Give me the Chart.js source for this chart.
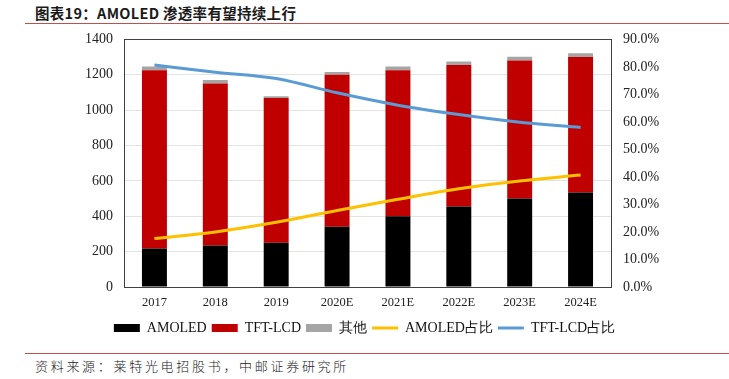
<!DOCTYPE html>
<html>
<head>
<meta charset="utf-8">
<script src="https://cdn.jsdelivr.net/npm/chart.js@4.4.1/dist/chart.umd.min.js"></script>
<style>
  html, body { margin: 0; padding: 0; background: #fff; }
  body { width: 729px; height: 379px; position: relative; overflow: hidden; }
  #title { position: absolute; left: 35px; top: 2px; font-family: "Noto Sans CJK SC", sans-serif; font-weight: bold; font-size: 14.5px; color: #1a1a1a; letter-spacing: 0.3px; }
  #topline { position: absolute; left: 25px; right: 0; top: 23px; height: 1px; background: #c0504d; }
  #botline { position: absolute; left: 25px; right: 0; top: 353px; height: 1px; background: #c0504d; }
  #source { position: absolute; left: 35px; top: 356px; font-family: "Noto Sans CJK SC", sans-serif; font-weight: 300; font-size: 13px; color: #222; letter-spacing: 2.7px; }
  #wrap { position: absolute; left: 0; top: 19px; width: 729px; height: 326px; }
</style>
</head>
<body>
<div id="title">图表19：AMOLED 渗透率有望持续上行</div>
<div id="topline"></div>
<div id="wrap"><canvas id="c"></canvas></div>
<div id="botline"></div>
<div id="source">资料来源：莱特光电招股书，中邮证券研究所</div>
<script>
const categories = ['2017', '2018', '2019', '2020E', '2021E', '2022E', '2023E', '2024E'];
const amoled = [218, 235, 250, 341, 400, 455, 500, 535];
const tftlcd = [1008, 915, 818, 859, 826, 800, 780, 765];
const others = [21, 21, 10, 16, 21, 20, 22, 21];
const amoledShare = [17.6, 20.0, 23.5, 27.8, 31.9, 35.7, 38.5, 40.7];
const tftShare = [80.7, 78.1, 75.8, 70.6, 66.1, 62.7, 59.9, 58.0];
const leftTicks = [0, 200, 400, 600, 800, 1000, 1200, 1400];
const rightTicks = [0, 10, 20, 30, 40, 50, 60, 70, 80, 90];

const serif = '"Liberation Serif", "Times New Roman", serif';

const boxPlugin = {
  id: 'plotBox',
  afterDraw(chart) {
    const a = chart.chartArea, ctx = chart.ctx;
    ctx.save();
    ctx.strokeStyle = '#404040';
    ctx.lineWidth = 1;
    ctx.strokeRect(Math.round(a.left) + 0.5, Math.round(a.top) + 0.5, Math.round(a.right - a.left), Math.round(a.bottom - a.top));
    ctx.restore();
  }
};

new Chart(document.getElementById('c'), {
  data: {
    labels: categories,
    datasets: [
      { type: 'line', label: 'AMOLED占比', data: amoledShare, yAxisID: 'y1', borderColor: '#FFC000', backgroundColor: '#FFC000', borderWidth: 3, pointRadius: 0, tension: 0.4, cubicInterpolationMode: 'monotone', pointStyle: 'line', order: 0 },
      { type: 'line', label: 'TFT-LCD占比', data: tftShare, yAxisID: 'y1', borderColor: '#5B9BD5', backgroundColor: '#5B9BD5', borderWidth: 3, pointRadius: 0, tension: 0.4, cubicInterpolationMode: 'monotone', pointStyle: 'line', order: 0 },
      { type: 'bar', label: 'AMOLED', data: amoled, backgroundColor: '#000000', stack: 's', yAxisID: 'y', pointStyle: 'rect', order: 1 },
      { type: 'bar', label: 'TFT-LCD', data: tftlcd, backgroundColor: '#C00000', stack: 's', yAxisID: 'y', pointStyle: 'rect', order: 1 },
      { type: 'bar', label: '其他', data: others, backgroundColor: '#A5A5A5', stack: 's', yAxisID: 'y', pointStyle: 'rect', order: 1 }
    ]
  },
  options: {
    responsive: true,
    maintainAspectRatio: false,
    animation: false,
    layout: { padding: { left: 0, right: 0, top: 1, bottom: 0 } },
    datasets: { bar: { barPercentage: 0.41, categoryPercentage: 1.0 } },
    plugins: {
      tooltip: { enabled: false },
      legend: {
        position: 'bottom',
        labels: {
          generateLabels(chart) {
            const order = [2, 3, 4, 0, 1];
            const base = Chart.defaults.plugins.legend.labels.generateLabels(chart);
            return order.map(i => base.find(l => l.datasetIndex === i));
          },
          usePointStyle: true,
          pointStyleWidth: 26,
          boxWidth: 26,
          boxHeight: 8,
          padding: 5,
          color: '#111',
          font: { family: serif, size: 14 }
        }
      }
    },
    scales: {
      x: {
        stacked: true,
        grid: { display: false, drawTicks: false },
        border: { display: false },
        ticks: { color: '#222', font: { family: serif, size: 12.5 }, padding: 8, maxRotation: 0 },
        afterFit(s) { s.height = 29; }
      },
      y: {
        stacked: true,
        position: 'left',
        min: 0, max: 1400,
        afterBuildTicks(s) { s.ticks = leftTicks.map(v => ({ value: v })); },
        grid: { color: '#E3E3E3', lineWidth: 1, drawTicks: false },
        border: { display: false },
        ticks: { color: '#222', font: { family: serif, size: 14 }, padding: 11, callback: v => String(v) },
        afterFit(s) { s.width = 124; }
      },
      y1: {
        position: 'right',
        min: 0, max: 90,
        afterBuildTicks(s) { s.ticks = rightTicks.map(v => ({ value: v })); },
        grid: { display: false, drawTicks: false },
        border: { display: false },
        ticks: { color: '#222', font: { family: serif, size: 14 }, padding: 12, callback: v => v.toFixed(1) + '%' },
        afterFit(s) { s.width = 118; }
      }
    }
  },
  plugins: [boxPlugin]
});
</script>
</body>
</html>
